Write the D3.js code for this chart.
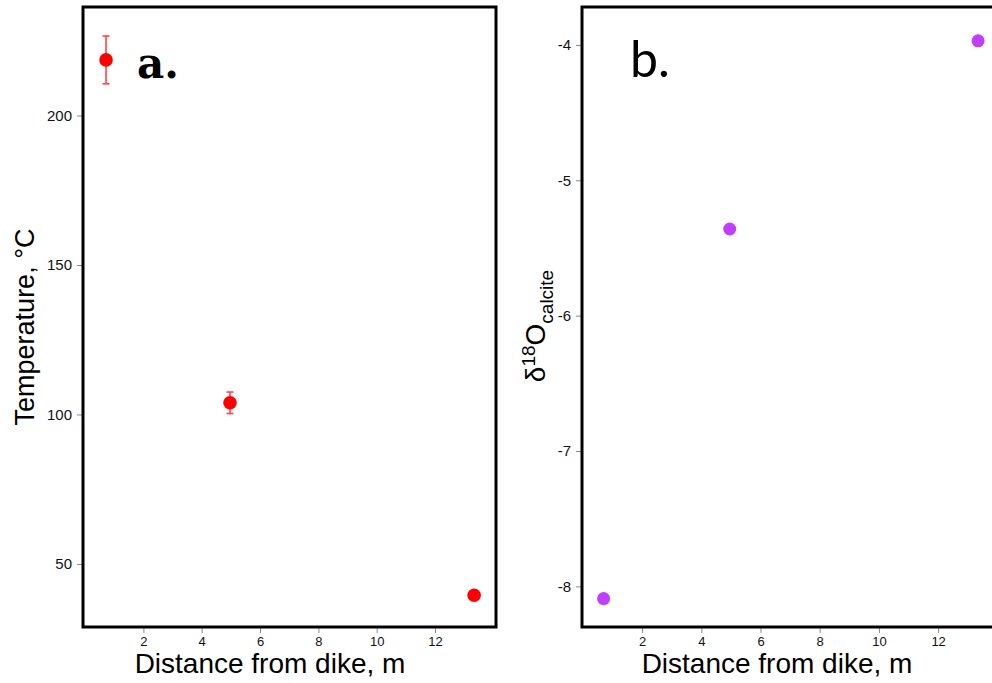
<!DOCTYPE html>
<html>
<head>
<meta charset="utf-8">
<script src="https://cdn.jsdelivr.net/npm/d3@7"></script>
<style>
  body { margin: 0; background: #fff; }
  svg { display: block; font-family: "Liberation Sans", Arial, sans-serif; }
  .tick line { stroke: #888; stroke-width: 1; }
  .tick text { fill: #111; }
</style>
</head>
<body>
<svg id="chart" width="992" height="683"></svg>
<script>
// distance from dike (m)
var distA = [0.72, 4.97, 13.34];
var temp = [218.6, 103.9, 39.5];
var tempErr = [8.0, 3.6, 1.0];

var distB = [0.70, 4.96, 13.35];
var d18O = [-8.09, -5.36, -3.97];

var xTicks = [2, 4, 6, 8, 10, 12];
var tempTicks = [50, 100, 150, 200];
var d18Ticks = [-8, -7, -6, -5, -4];

var svg = d3.select('#chart');
var plotTop = 7, plotBottom = 627;

function panel(opt) {
  var g = svg.append('g');
  var x = d3.scaleLinear().domain(opt.xdom).range([opt.left, opt.right]);
  var y = d3.scaleLinear().domain(opt.ydom).range([plotBottom, plotTop]);

  var xa = g.append('g')
    .attr('transform', 'translate(0,' + plotBottom + ')')
    .call(d3.axisBottom(x).tickValues(xTicks).tickSize(6).tickPadding(4));
  xa.select('.domain').remove();
  xa.selectAll('text').style('font-size', '13px');

  // plain hyphen for negatives, like the original
  var ya = g.append('g')
    .attr('transform', 'translate(' + opt.left + ',0)')
    .call(d3.axisLeft(y).tickValues(opt.yticks).tickSize(6).tickPadding(5).tickFormat(function(d) { return String(d); }));
  ya.select('.domain').remove();
  ya.selectAll('text').style('font-size', '15px');

  g.append('rect')
    .attr('x', opt.left).attr('y', plotTop)
    .attr('width', opt.right - opt.left).attr('height', plotBottom - plotTop)
    .attr('fill', 'none').attr('stroke', '#000').attr('stroke-width', 3);

  return {g: g, x: x, y: y};
}

// panel a
var a = panel({left: 83, right: 496, xdom: [-0.07, 14.09], ydom: [28.9, 236.3], yticks: tempTicks});

var errs = a.g.append('g').attr('stroke', '#ff4545').attr('stroke-width', 1.6);
distA.forEach(function(d, i) {
  var cx = a.x(d);
  var y1 = a.y(temp[i] + tempErr[i]), y2 = a.y(temp[i] - tempErr[i]);
  errs.append('line').attr('x1', cx).attr('x2', cx).attr('y1', y1).attr('y2', y2);
  errs.append('line').attr('x1', cx - 3.5).attr('x2', cx + 3.5).attr('y1', y1).attr('y2', y1);
  errs.append('line').attr('x1', cx - 3.5).attr('x2', cx + 3.5).attr('y1', y2).attr('y2', y2);
});

a.g.selectAll('circle.pt').data(distA).enter().append('circle')
  .attr('cx', function(d) { return a.x(d); })
  .attr('cy', function(d, i) { return a.y(temp[i]); })
  .attr('r', 6.8)
  .attr('fill', '#ff0000');

a.g.append('text')
  .attr('x', 137).attr('y', 78)
  .style('font-family', '"DejaVu Serif", serif')
  .style('font-weight', 'bold')
  .style('font-size', '42px')
  .text('a.');

a.g.append('text')
  .attr('x', 270).attr('y', 673)
  .attr('text-anchor', 'middle')
  .style('font-size', '28px')
  .text('Distance from dike, m');

a.g.append('text')
  .attr('transform', 'translate(34,327) rotate(-90)')
  .attr('text-anchor', 'middle')
  .style('font-size', '27px')
  .text('Temperature, °C');

// panel b
var b = panel({left: 582, right: 1000, xdom: [-0.03, 14.09], ydom: [-8.30, -3.72], yticks: d18Ticks});

b.g.selectAll('circle.pt').data(distB).enter().append('circle')
  .attr('cx', function(d) { return b.x(d); })
  .attr('cy', function(d, i) { return b.y(d18O[i]); })
  .attr('r', 6.5)
  .attr('fill', '#bf3eff');

b.g.append('text')
  .attr('x', 630).attr('y', 77)
  .style('font-family', 'Lato, "Open Sans", sans-serif')
  .style('font-size', '50px')
  .text('b.');

b.g.append('text')
  .attr('x', 777).attr('y', 673)
  .attr('text-anchor', 'middle')
  .style('font-size', '28px')
  .text('Distance from dike, m');

var yt = b.g.append('text')
  .attr('transform', 'translate(545,326) rotate(-90)')
  .attr('text-anchor', 'middle')
  .style('font-size', '28px');
yt.append('tspan').text('δ');
yt.append('tspan').attr('dy', -10).style('font-size', '19px').text('18');
yt.append('tspan').attr('dy', 10).text('O');
yt.append('tspan').attr('dy', 8).style('font-size', '19px').text('calcite');
</script>
</body>
</html>
